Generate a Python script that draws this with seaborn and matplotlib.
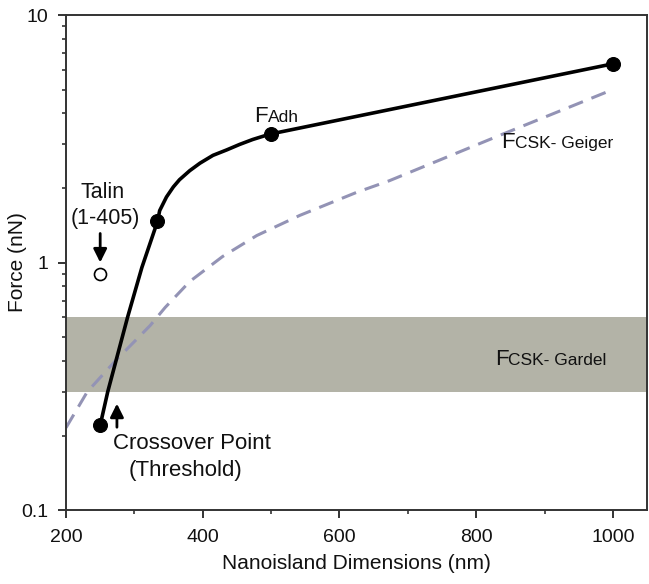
import pandas as pd
import matplotlib.pyplot as plt
import seaborn as sns
from matplotlib.ticker import LogLocator, FixedLocator, NullFormatter, FixedFormatter, MultipleLocator

# measured points (nanoisland size vs adhesion force)
size_nm = [250, 333, 500, 1000]
force_adh = [0.22, 1.47, 3.32, 6.35]

# F_Adh curve
adh_x = [250, 261, 290, 311, 334, 337, 347, 357, 366, 381, 396, 415, 435, 454, 473, 498, 1000]
adh_y = [0.22, 0.30, 0.60, 0.955, 1.47, 1.62, 1.84, 2.02, 2.16, 2.35, 2.52, 2.71, 2.85, 3.0, 3.14, 3.3, 6.35]

# F_CSK Geiger curve as traced
geiger_x = [200, 231, 257, 272, 323, 345, 381, 429, 479, 542, 625, 673, 834, 1000]
geiger_y = [0.215, 0.30, 0.36, 0.40, 0.556, 0.658, 0.838, 1.057, 1.285, 1.55, 1.92, 2.14, 3.26, 5.0]

# talin point
talin_x = [250]
talin_y = [0.9]

# Gardel band
gardel_low, gardel_high = 0.3, 0.6

sns.set_style("ticks")
plt.rcParams['font.family'] = ['Liberation Sans', 'DejaVu Sans']
plt.rcParams['text.color'] = '#111111'
plt.rcParams['axes.labelcolor'] = '#111111'
plt.rcParams['xtick.labelcolor'] = '#111111'
plt.rcParams['ytick.labelcolor'] = '#111111'

fig = plt.figure(figsize=(6.49, 5.84), dpi=100)
ax = fig.add_axes([0.1017, 0.1267, 0.8953, 0.8476])

ax.axhspan(gardel_low, gardel_high, color='#b3b3a7', lw=0, zorder=0)

adh = pd.DataFrame({'x': adh_x, 'y': adh_y})
geiger = pd.DataFrame({'x': geiger_x, 'y': geiger_y})
pts = pd.DataFrame({'x': size_nm, 'y': force_adh})

sns.lineplot(data=geiger, x='x', y='y', ax=ax, color='#9393b5', lw=2.2, zorder=2)
ax.lines[-1].set_dashes([5, 3])
sns.lineplot(data=adh, x='x', y='y', ax=ax, color='black', lw=2.6, zorder=3)
sns.scatterplot(data=pts, x='x', y='y', ax=ax, color='black', s=100,
                edgecolor='black', zorder=4)
ax.scatter(talin_x, talin_y, s=75, facecolor='white', edgecolor='black', lw=1.2, zorder=4)

ax.set_yscale('log')
ax.set_xlim(200, 1050)
ax.set_ylim(0.1, 10)

ax.xaxis.set_major_locator(MultipleLocator(200))
ax.xaxis.set_minor_locator(MultipleLocator(100))
ax.yaxis.set_major_locator(FixedLocator([0.1, 1, 10]))
ax.yaxis.set_major_formatter(FixedFormatter(['0.1', '1', '10']))
ax.yaxis.set_minor_locator(LogLocator(base=10, subs=range(2, 10)))
ax.yaxis.set_minor_formatter(NullFormatter())

for s in ax.spines.values():
    s.set_color('#333333')
    s.set_linewidth(1.4)
ax.tick_params(which='major', length=6, width=1.4, color='#333333', labelsize=14)
ax.tick_params(axis='x', which='major', pad=7.5)
ax.tick_params(axis='y', which='major', pad=7)
ax.tick_params(which='minor', length=3.2, width=1.2, color='#333333')

ax.set_xlabel('Nanoisland Dimensions (nm)', fontsize=15)
ax.set_ylabel('Force (nN)', fontsize=15)
ax.xaxis.set_label_coords(0.5, -0.088)
ax.yaxis.set_label_coords(-0.067, 0.5)

# labels with large F and small subscript-like text
def flabel(x, y, rest):
    ax.text(x, y, 'F', fontsize=16, ha='right', va='baseline', zorder=5)
    ax.text(x, y, rest, fontsize=12.5, ha='left', va='baseline', zorder=5)

flabel(495, 3.68, 'Adh')
flabel(857, 2.89, 'CSK- Geiger')
flabel(847, 0.384, 'CSK- Gardel')

arrow = dict(arrowstyle='-|>', color='black', lw=2, mutation_scale=20, shrinkA=0, shrinkB=0)

ax.text(254, 1.92, 'Talin', fontsize=15.5, ha='center', va='center')
ax.text(257, 1.5, '(1-405)', fontsize=15.5, ha='center', va='center')
ax.annotate('', xy=(250, 1.0), xytext=(250, 1.31), arrowprops=arrow)

ax.text(384, 0.186, 'Crossover Point', fontsize=16, ha='center', va='center')
ax.text(375, 0.1445, '(Threshold)', fontsize=16, ha='center', va='center')
ax.annotate('', xy=(274.5, 0.269), xytext=(274.5, 0.216), arrowprops=arrow)

fig.savefig('out.png', dpi=100)
